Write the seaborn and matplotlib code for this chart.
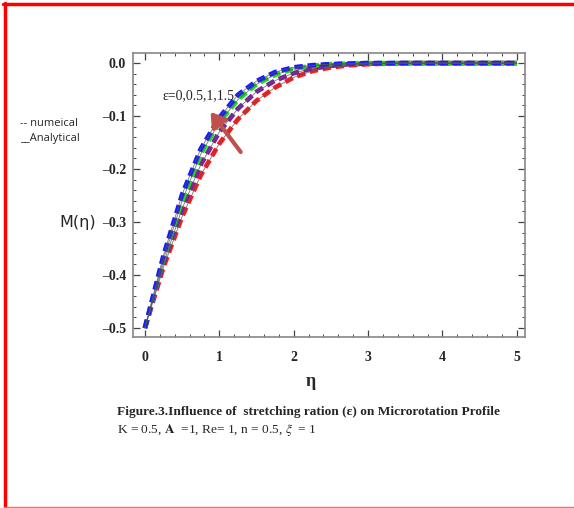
import matplotlib
matplotlib.use('Agg')
import matplotlib.pyplot as plt
from matplotlib.lines import Line2D
from matplotlib.ticker import MultipleLocator, FuncFormatter
import pandas as pd
import seaborn as sns

# eta grid and values (one list per epsilon)
eta = [0, 0.25, 0.5, 0.75, 1.0, 1.25, 1.5, 1.75, 2.0, 2.25, 2.5, 2.75, 3.0, 3.5, 4.0, 5.0]
m_eps0 = [-0.500, -0.385, -0.290, -0.212, -0.152, -0.106, -0.071, -0.046, -0.027,
          -0.015, -0.008, -0.004, -0.002, 0.0, 0.0, 0.0]
m_eps05 = [-0.500, -0.378, -0.275, -0.192, -0.130, -0.086, -0.054, -0.033, -0.019,
           -0.010, -0.005, -0.002, -0.001, 0.0, 0.0, 0.0]
m_eps1 = [-0.500, -0.370, -0.260, -0.172, -0.112, -0.069, -0.040, -0.022, -0.011,
          -0.005, -0.002, -0.001, 0.0, 0.0, 0.0, 0.0]
m_eps15 = [-0.500, -0.363, -0.248, -0.162, -0.103, -0.060, -0.034, -0.017, -0.008,
           -0.004, -0.002, -0.001, 0.0, 0.0, 0.0, 0.0]
eps_values = ['0', '0.5', '1', '1.5']
colors = ['#ff1a1a', '#7a1fa2', '#1adf1a', '#1a1aff']

df = pd.DataFrame({
    'eta': eta * 4,
    'M': m_eps0 + m_eps05 + m_eps1 + m_eps15,
    'eps': [e for e in eps_values for _ in eta],
})

sns.set_theme(style='ticks')
plt.rcParams['font.family'] = ['Liberation Serif', 'DejaVu Serif']
plt.rcParams['mathtext.fontset'] = 'stix'

fig = plt.figure(figsize=(5.74, 5.08), dpi=100)
ax = fig.add_axes([0.2317, 0.3366, 0.683, 0.559])

# numerical: thick dashed
sns.lineplot(data=df, x='eta', y='M', hue='eps', style='eps', hue_order=eps_values,
             style_order=eps_values, palette=dict(zip(eps_values, colors)),
             dashes={e: (1.8, 1.0) for e in eps_values}, linewidth=3.4,
             legend=False, ax=ax)
# analytical: thin solid
for e in eps_values:
    sub = df[df['eps'] == e]
    sns.lineplot(x=sub['eta'], y=sub['M'], color='#555555', linewidth=0.6,
                 alpha=0.8, legend=False, ax=ax)

ax.set_xlim(-0.16, 5.11)
ax.set_ylim(-0.517, 0.019)
ax.xaxis.set_major_locator(MultipleLocator(1))
ax.xaxis.set_minor_locator(MultipleLocator(0.2))
ax.yaxis.set_major_locator(MultipleLocator(0.1))
ax.yaxis.set_minor_locator(MultipleLocator(0.02))
ax.yaxis.set_major_formatter(FuncFormatter(
    lambda v, p: ('%.1f' % v).replace('-', '–') if abs(v) > 1e-9 else '0.0'))
ax.tick_params(which='both', direction='in', top=True, right=True, color='#444444')
ax.tick_params(which='major', length=5, width=0.9)
ax.tick_params(which='minor', length=2.5, width=0.7)
ax.tick_params(axis='x', which='major', pad=10)
ax.tick_params(axis='y', which='major', pad=5)
for lab in ax.get_xticklabels() + ax.get_yticklabels():
    lab.set_fontweight('bold')
    lab.set_fontsize(10)
for sp in ax.spines.values():
    sp.set_color('#888888')
    sp.set_linewidth(1.2)
ax.set_xlabel('')
ax.set_ylabel('')

# annotation and arrow
ax.text(0.23, -0.062, 'ε=0,0.5,1,1.5', fontsize=10, va='center', ha='left')
ax.annotate('', xy=(0.86, -0.088), xytext=(1.31, -0.172),
            arrowprops=dict(arrowstyle='-|>,head_width=0.45,head_length=0.7',
                            color='#c0504d', lw=3))

# axis labels
fig.text(78 / 574, 1 - 222 / 508, 'M(η)', fontsize=11.5, ha='center', va='center',
         family=['DejaVu Sans'])
fig.text(311 / 574, 1 - 381 / 508, 'η', fontsize=13, fontweight='bold',
         ha='center', va='center')

# legend notes
fig.text(20 / 574, 1 - 124 / 508, '-- numeical', fontsize=8, va='center',
         family=['Open Sans', 'DejaVu Sans'])
fig.text(20 / 574, 1 - 139 / 508, '__Analytical', fontsize=8, va='center',
         family=['Open Sans', 'DejaVu Sans'])

# caption
fig.text(117 / 574, 1 - 412 / 508,
         'Figure.3.Influence of  stretching ration (ε) on Microrotation Profile',
         fontsize=9.6, fontweight='bold', va='center', ha='left')
fig.text(117 / 574, 1 - 430 / 508,
         r'K = 0.5, $\mathbf{A}$  =1, Re= 1, n = 0.5, $\xi$  = 1',
         fontsize=9.6, va='center', ha='left')

# red page border
fig.add_artist(Line2D([3 / 574, 1], [1 - 3.5 / 508] * 2, transform=fig.transFigure,
                      color='#ff0000', lw=2.5))
fig.add_artist(Line2D([4.5 / 574] * 2, [1 - 3 / 508, 0], transform=fig.transFigure,
                      color='#ff0000', lw=2.5))
fig.add_artist(Line2D([4 / 574, 1], [1.5 / 508] * 2, transform=fig.transFigure,
                      color='#ff6666', lw=1))

fig.savefig('out.png', dpi=100)
